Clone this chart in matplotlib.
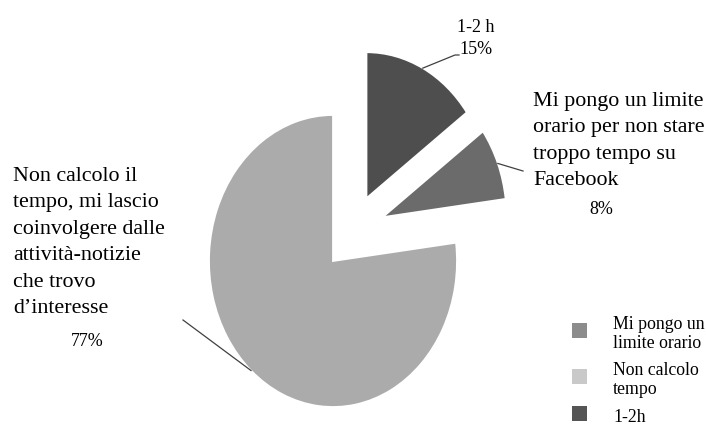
import matplotlib.pyplot as plt
from matplotlib.patches import Rectangle
import numpy as np

plt.rcParams['font.family'] = ['Liberation Serif', 'DejaVu Serif']

# slices, drawn clockwise starting from 12 o'clock
slice_names = [
    '1-2 h',
    'Mi pongo un limite\norario per non stare\ntroppo tempo su\nFacebook',
    'Non calcolo il\ntempo, mi lascio\ncoinvolgere dalle\nattività-notizie\nche trovo\nd\u2019interesse',
]
shares = [15, 8, 77]
legend_names = ['Mi pongo un\nlimite orario', 'Non calcolo\ntempo', '1-2h']

slice_colors = ['#4e4e4e', '#6b6b6b', '#ababab']
legend_colors = ['#8c8c8c', '#c9c9c9', '#555555']
# how far each slice is pulled out (x, y in radius units)
offsets = [(0.27, 0.43), (0.40, 0.30), (0.0, 0.0)]

W, H = 706, 424
cx, cy = 333, 261     # pie centre, pixels from top-left
rx, ry = 124, 146     # the pie is drawn stretched vertically

fig = plt.figure(figsize=(W / 100, H / 100), dpi=100)
ax = fig.add_axes([0, 0, 1, 1])

wedges, _ = ax.pie(shares, startangle=90, counterclock=False,
                   colors=slice_colors,
                   wedgeprops=dict(edgecolor='white', linewidth=1.3))
for w, off in zip(wedges, offsets):
    w.set_center(off)

ax.set_aspect('auto')
ax.set_xlim(-cx / rx, (W - cx) / rx)
ax.set_ylim(-(H - cy) / ry, cy / ry)
ax.axis('off')


def px(x, y):
    return (x - cx) / rx, (cy - y) / ry


def rim_point(w):
    a = np.radians((w.theta1 + w.theta2) / 2)
    return w.center[0] + w.r * np.cos(a), w.center[1] + w.r * np.sin(a)


big = 15.8
small = 13
lead = dict(color='#404040', lw=0.9)

# 1-2 h
ax.text(*px(476, 27), slice_names[0], ha='center', va='center', fontsize=small)
ax.text(*px(476, 50), f'{shares[0]}%', ha='center', va='center', fontsize=small)
p = rim_point(wedges[0])
q1, q2 = px(455, 55), px(459, 55)
ax.plot([p[0], q1[0], q2[0]], [p[1], q1[1], q2[1]], **lead)

# limite orario
ax.text(*px(533, 92), slice_names[1], ha='left', va='top', fontsize=big,
        linespacing=1.52)
ax.text(*px(601, 210), f'{shares[1]}%', ha='center', va='center', fontsize=small)
p = rim_point(wedges[1])
q = px(523, 171)
ax.plot([p[0], q[0]], [p[1], q[1]], **lead)

# non calcolo
ax.text(*px(13, 167), slice_names[2], ha='left', va='top', fontsize=big,
        linespacing=1.53)
ax.text(*px(87, 342), f'{shares[2]}%', ha='center', va='center', fontsize=small)
p = rim_point(wedges[2])
q = px(183, 320)
ax.plot([p[0], q[0]], [p[1], q[1]], **lead)

# legend: grey square + label, one row each
row_y = [330, 376, 413]
for name, color, y in zip(legend_names, legend_colors, row_y):
    ax.add_patch(Rectangle(px(572, y + 7.5), 15 / rx, 15 / ry,
                           facecolor=color, edgecolor='none'))
    ax.text(*px(613, y + 4), name, ha='left', va='center', fontsize=12.8,
            linespacing=1.1)

fig.savefig('out.png', dpi=100)
